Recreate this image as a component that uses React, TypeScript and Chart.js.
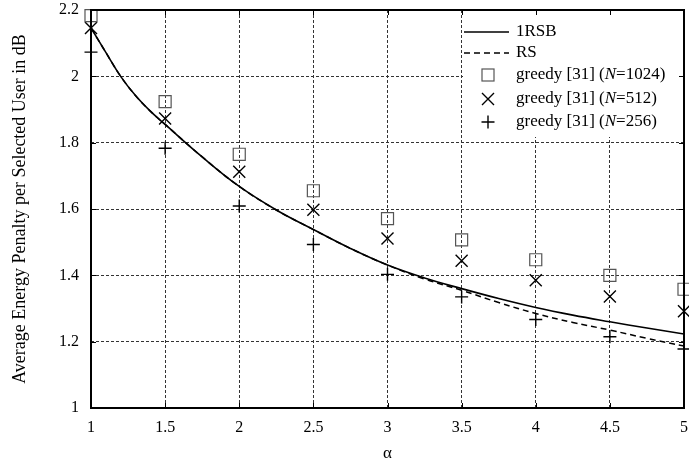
import React, { useEffect, useRef } from 'react';
import { Chart, registerables } from 'chart.js';

Chart.register(...registerables);

// ---- data ----
const alphaTicks = [1, 1.5, 2, 2.5, 3, 3.5, 4, 4.5, 5];
const yTicks = [1, 1.2, 1.4, 1.6, 1.8, 2, 2.2];

const curveAlpha = [1, 1.1, 1.2, 1.3, 1.4, 1.5, 1.75, 2, 2.25, 2.5, 2.75, 3, 3.25, 3.5, 3.75, 4, 4.25, 4.5, 4.75, 5];
const rsb1 = [2.146, 2.072, 2.0, 1.942, 1.895, 1.855, 1.757, 1.668, 1.597, 1.538, 1.481, 1.431, 1.392, 1.36, 1.33, 1.303, 1.28, 1.26, 1.241, 1.223];
const rs = [2.146, 2.072, 2.0, 1.942, 1.895, 1.855, 1.757, 1.668, 1.597, 1.538, 1.481, 1.431, 1.389, 1.355, 1.318, 1.285, 1.258, 1.235, 1.21, 1.187];

const greedyAlpha = [1, 1.5, 2, 2.5, 3, 3.5, 4, 4.5, 5];
const greedy1024 = [2.183, 1.924, 1.765, 1.655, 1.571, 1.507, 1.447, 1.4, 1.358];
const greedy512 = [2.146, 1.873, 1.712, 1.598, 1.511, 1.444, 1.385, 1.336, 1.292];
const greedy256 = [2.073, 1.783, 1.609, 1.493, 1.403, 1.335, 1.267, 1.215, 1.178];

const legendNames = ['1RSB', 'RS', 'greedy [31] (N=1024)', 'greedy [31] (N=512)', 'greedy [31] (N=256)'];

const FONT = "'Liberation Serif', 'Times New Roman', Times, serif";

const fmt = (v: number) => String(Number(Number(v).toFixed(1)));

const framePlugin = {
  id: 'frameLegend',
  afterDraw(chart: any) {
    const ctx: CanvasRenderingContext2D = chart.ctx;
    const { left, top, right, bottom } = chart.chartArea;
    const xs = chart.scales.x;
    const ys = chart.scales.y;
    ctx.save();

    // legend box
    const x0 = Math.round(xs.getPixelForValue(3.5));
    ctx.fillStyle = '#fff';
    ctx.fillRect(x0 + 1, top, right - x0 - 1, 127);

    const rows = [22, 43, 65, 89, 112];
    const lineA = x0 + 2;
    const lineB = x0 + 47;
    const mx = x0 + 26;
    const tx = x0 + 54;
    ctx.textBaseline = 'middle';
    ctx.fillStyle = '#000';
    legendNames.forEach((name, i) => {
      const y = top + rows[i];
      ctx.save();
      if (i === 0 || i === 1) {
        ctx.strokeStyle = '#000';
        ctx.lineWidth = 1.6;
        ctx.setLineDash(i === 1 ? [6, 4] : []);
        ctx.beginPath();
        ctx.moveTo(lineA, y);
        ctx.lineTo(lineB, y);
        ctx.stroke();
      } else if (i === 2) {
        ctx.strokeStyle = '#555';
        ctx.lineWidth = 1.2;
        ctx.strokeRect(mx - 6, y - 6, 12, 12);
      } else if (i === 3) {
        ctx.strokeStyle = '#000';
        ctx.lineWidth = 1.4;
        ctx.beginPath();
        ctx.moveTo(mx - 6, y - 6);
        ctx.lineTo(mx + 6, y + 6);
        ctx.moveTo(mx + 6, y - 6);
        ctx.lineTo(mx - 6, y + 6);
        ctx.stroke();
      } else {
        ctx.strokeStyle = '#000';
        ctx.lineWidth = 1.4;
        ctx.beginPath();
        ctx.moveTo(mx - 6.5, y);
        ctx.lineTo(mx + 6.5, y);
        ctx.moveTo(mx, y - 6.5);
        ctx.lineTo(mx, y + 6.5);
        ctx.stroke();
      }
      ctx.restore();
      ctx.fillStyle = '#000';
      const parts = name.split('N');
      let cx = tx;
      if (parts.length === 2) {
        ctx.font = `17px ${FONT}`;
        ctx.fillText(parts[0], cx, y);
        cx += ctx.measureText(parts[0]).width;
        ctx.font = `italic 17px ${FONT}`;
        ctx.fillText('N', cx, y);
        cx += ctx.measureText('N').width;
        ctx.font = `17px ${FONT}`;
        ctx.fillText(parts[1], cx, y);
      } else {
        ctx.font = `17px ${FONT}`;
        ctx.fillText(name, cx, y);
      }
    });

    // frame
    ctx.strokeStyle = '#000';
    ctx.lineWidth = 2;
    ctx.setLineDash([]);
    ctx.strokeRect(left, top, right - left, bottom - top);

    // inward ticks
    ctx.lineWidth = 1;
    ctx.beginPath();
    alphaTicks.forEach((v) => {
      const px = Math.round(xs.getPixelForValue(v)) + 0.5;
      ctx.moveTo(px, top);
      ctx.lineTo(px, top + 5);
      ctx.moveTo(px, bottom);
      ctx.lineTo(px, bottom - 5);
    });
    yTicks.forEach((v) => {
      const py = Math.round(ys.getPixelForValue(v)) + 0.5;
      ctx.moveTo(left, py);
      ctx.lineTo(left + 5, py);
      ctx.moveTo(right, py);
      ctx.lineTo(right - 5, py);
    });
    ctx.stroke();
    ctx.restore();
  },
};

export default function App() {
  const ref = useRef<HTMLCanvasElement>(null);
  useEffect(() => {
    const toPts = (xs: number[], ys: number[]) => xs.map((x, i) => ({ x, y: ys[i] }));
    const chart = new Chart(ref.current as HTMLCanvasElement, {
      type: 'scatter',
      data: {
        datasets: [
          {
            type: 'line',
            label: legendNames[0],
            data: toPts(curveAlpha, rsb1),
            borderColor: '#000',
            borderWidth: 1.6,
            pointRadius: 0,
            tension: 0.4,
            fill: false,
          } as any,
          {
            type: 'line',
            label: legendNames[1],
            data: toPts(curveAlpha, rs),
            borderColor: '#000',
            borderWidth: 1.5,
            borderDash: [6, 4],
            pointRadius: 0,
            tension: 0.4,
            fill: false,
          } as any,
          {
            label: legendNames[2],
            data: toPts(greedyAlpha, greedy1024),
            pointStyle: 'rect',
            pointRadius: 8.5,
            borderColor: '#555',
            borderWidth: 1.2,
            backgroundColor: 'rgba(0,0,0,0)',
            clip: false,
          } as any,
          {
            label: legendNames[3],
            data: toPts(greedyAlpha, greedy512),
            pointStyle: 'crossRot',
            pointRadius: 8.5,
            borderColor: '#000',
            borderWidth: 1.4,
            backgroundColor: 'rgba(0,0,0,0)',
            clip: false,
          } as any,
          {
            label: legendNames[4],
            data: toPts(greedyAlpha, greedy256),
            pointStyle: 'cross',
            pointRadius: 6.5,
            borderColor: '#000',
            borderWidth: 1.4,
            backgroundColor: 'rgba(0,0,0,0)',
            clip: false,
          } as any,
        ],
      },
      options: {
        responsive: false,
        animation: false,
        events: [],
        layout: { autoPadding: false, padding: { top: 10, right: 5, left: 0, bottom: 0 } },
        plugins: { legend: { display: false }, tooltip: { enabled: false } },
        scales: {
          x: {
            type: 'linear',
            min: 1,
            max: 5,
            afterBuildTicks: (s: any) => {
              s.ticks = alphaTicks.map((value) => ({ value }));
            },
            afterFit: (s: any) => {
              s.height = 58;
              s.paddingLeft = 0;
              s.paddingRight = 0;
            },
            grid: { color: '#333', lineWidth: 1, drawTicks: true, tickLength: 10, tickColor: 'rgba(0,0,0,0)' },
            border: { display: false, dash: [3, 2] },
            ticks: {
              padding: 0,
              color: '#000',
              font: { family: FONT, size: 16 },
              maxRotation: 0,
              autoSkip: false,
              callback: (v: any) => fmt(v),
            },
            title: {
              display: true,
              text: 'α',
              color: '#000',
              font: { family: FONT, size: 17 },
              padding: { top: 0, bottom: 2 },
            },
          },
          y: {
            type: 'linear',
            min: 1,
            max: 2.2,
            afterBuildTicks: (s: any) => {
              s.ticks = yTicks.map((value) => ({ value }));
            },
            afterFit: (s: any) => {
              s.width = 91;
              s.paddingTop = 0;
              s.paddingBottom = 0;
            },
            grid: { color: '#333', lineWidth: 1, drawTicks: true, tickLength: 12, tickColor: 'rgba(0,0,0,0)' },
            border: { display: false, dash: [3, 2] },
            ticks: {
              padding: 0,
              color: '#000',
              font: { family: FONT, size: 16 },
              autoSkip: false,
              callback: (v: any) => fmt(v),
            },
            title: {
              display: true,
              text: 'Average Energy Penalty per Selected User in dB',
              color: '#000',
              font: { family: FONT, size: 18 },
              padding: { top: 9, bottom: 0 },
            },
          },
        },
      } as any,
      plugins: [framePlugin],
    });
    return () => chart.destroy();
  }, []);

  return (
    <div style={{ position: 'absolute', left: 0, top: 0, width: 689, height: 466, background: '#fff' }}>
      <canvas ref={ref} width={689} height={466} style={{ display: 'block', width: 689, height: 466 }} />
    </div>
  );
}
